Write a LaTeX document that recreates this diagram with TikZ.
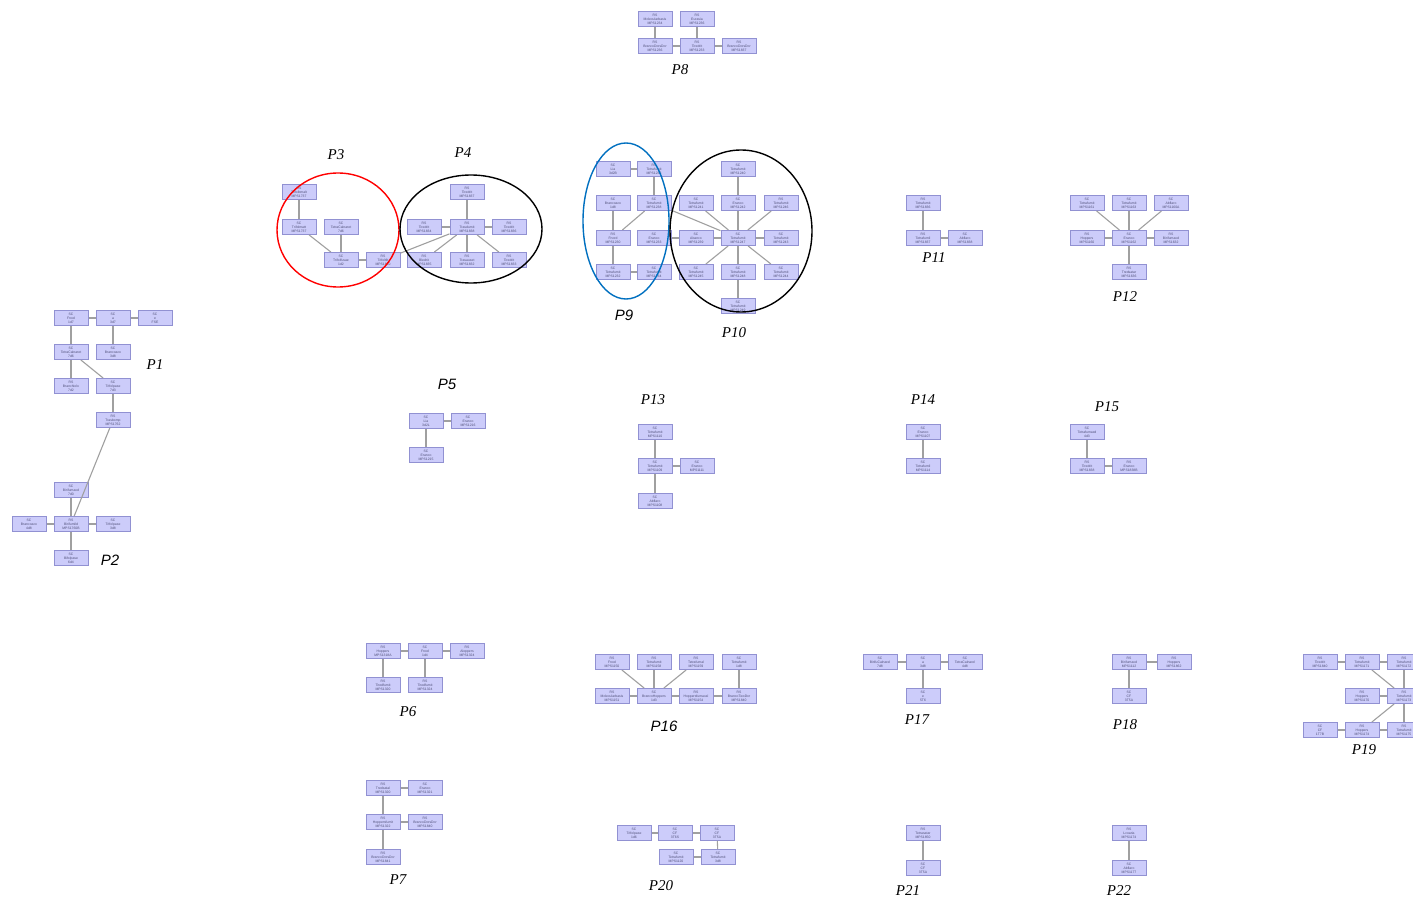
\documentclass[tikz,border=0pt]{standalone}
\usepackage{fontspec}
\setmainfont{Liberation Serif}
\newfontfamily\lblsans{Liberation Sans}
\definecolor{nfill}{RGB}{204,204,250}
\definecolor{ndraw}{RGB}{145,145,210}
\definecolor{ntext}{RGB}{80,80,120}
\definecolor{edgec}{RGB}{160,160,160}
\definecolor{blueov}{RGB}{0,112,192}
\tikzset{
  nd/.style={draw=ndraw, fill=nfill, line width=1pt, minimum width=34pt, minimum height=15pt,
    inner sep=0pt, align=center, text=ntext, font=\lblsans\fontsize{3.4}{3.9}\selectfont},
  ed/.style={draw=edgec, line width=1.1pt},
  lbl/.style={font=\fontsize{15}{15}\selectfont\itshape},
  lbls/.style={font=\fontsize{15}{15}\selectfont\lblsans\itshape},
  ring/.style={line width=1.4pt}
}
\begin{document}
\begin{tikzpicture}[x=1pt,y=-1pt]
\useasboundingbox (0,0) rectangle (1413,901);
\fill[white] (0,0) rectangle (1413,901);

% ---------------- P8
\node[nd] (p8a) at (655,19) {RS\\Molecularbasis\\MPS1234};
\node[nd] (p8b) at (697,19) {RS\\Eurasia\\MPS1236};
\node[nd] (p8c) at (655,46) {RS\\BrancoDorsDor\\MPS1236};
\node[nd] (p8d) at (697,46) {RS\\Tiredrit\\MPS1233};
\node[nd] (p8e) at (739,46) {RS\\BrancoDorsDor\\MPS1837};
\draw[ed] (p8a)--(p8c); \draw[ed] (p8b)--(p8d); \draw[ed] (p8c)--(p8d); \draw[ed] (p8d)--(p8e);
\node[lbl] (l8) at (680,70) {P8};

% ---------------- P1
\node[nd] (p1a) at (71,318) {SC\\Fnod\\1d7};
\node[nd] (p1b) at (113,318) {SC\\a\\3d7};
\node[nd] (p1c) at (155,318) {SC\\e\\FSE};
\node[nd] (p1d) at (71,352) {SC\\TetraCalnaret\\7d6};
\node[nd] (p1e) at (113,352) {SC\\Brancoaco\\3d8};
\node[nd] (p1f) at (71,386) {RS\\Branchiolo\\7d2};
\node[nd] (p1g) at (113,386) {SC\\Trifolpase\\7d3};
\node[nd] (p1h) at (113,420) {RS\\Trasbomp\\MPS1762};
\draw[ed] (p1a)--(p1b); \draw[ed] (p1b)--(p1c); \draw[ed] (p1a)--(p1d); \draw[ed] (p1b)--(p1e);
\draw[ed] (p1d)--(p1f); \draw[ed] (p1d)--(p1g); \draw[ed] (p1g)--(p1h);
\node[lbl] (l1) at (155,365) {P1};

% ---------------- P2
\node[nd] (p2a) at (71,490) {SC\\Birifumaxd\\7d0};
\node[nd] (p2b) at (71,524) {RS\\Birifumild\\MPS1760B};
\node[nd] (p2c) at (29,524) {SC\\Brancoaco\\4d8};
\node[nd] (p2d) at (113,524) {SC\\Trifolpase\\3d8};
\node[nd] (p2e) at (71,558) {SC\\Bifolpase\\6d4};
\draw[ed] (p2a)--(p2b); \draw[ed] (p2c)--(p2b); \draw[ed] (p2b)--(p2d); \draw[ed] (p2b)--(p2e);
\draw[ed] (p1h)--(p2b);
\node[lbls] (l2) at (110,560) {P2};

% ---------------- P3
\node[nd] (p3a) at (299,192) {RS\\Trifolbmalt\\MPS1737};
\node[nd] (p3b) at (299,227) {SC\\Trifolmatt\\MPS1737};
\node[nd] (p3c) at (341,227) {SC\\TetraCalnaret\\7d6};
\node[nd] (p3d) at (341,260) {SC\\Trifolfusae\\1d2};
\node[nd] (p3e) at (383,260) {RS\\Trifoltlit\\MPS1840};
\draw[ed] (p3a)--(p3b); \draw[ed] (p3b)--(p3d); \draw[ed] (p3c)--(p3d); \draw[ed] (p3d)--(p3e);
\node[lbl] (l3) at (336,155) {P3};

% ---------------- P4
\node[nd] (p4a) at (467,192) {RS\\Tiredrit\\MPS1837};
\node[nd] (p4b) at (424,227) {RS\\Tiredrit\\MPS1834};
\node[nd] (p4c) at (467,227) {RS\\Trasdumit\\MPS1838};
\node[nd] (p4d) at (509,227) {RS\\Tiredrit\\MPS1836};
\node[nd] (p4e) at (424,260) {RS\\Bledrit\\MPS1835};
\node[nd] (p4f) at (467,260) {RS\\Trasauset\\MPS1832};
\node[nd] (p4g) at (509,260) {RS\\Tiredrit\\MPS1833};
\draw[ed] (p4a)--(p4c); \draw[ed] (p4b)--(p4c); \draw[ed] (p4c)--(p4d); \draw[ed] (p4c)--(p4e);
\draw[ed] (p4c)--(p4f); \draw[ed] (p4c)--(p4g); \draw[ed] (p4c)--(p3e);
\node[lbl] (l4) at (463,153) {P4};
\draw[red, ring] (338,230) ellipse [x radius=61, y radius=57];
\draw[black, ring] (471,229) ellipse [x radius=71, y radius=54];

% ---------------- P9
\node[nd] (p9a) at (613,169) {SC\\Lia\\3d2B};
\node[nd] (p9b) at (654,169) {RS\\Tetrafumit\\MPS1236};
\node[nd] (p9c) at (613,203) {SC\\Brancoaco\\1d8};
\node[nd] (p9d) at (654,203) {SC\\Tetrafumit\\MPS1238};
\node[nd] (p9e) at (613,238) {RS\\Fnord\\MPS1230};
\node[nd] (p9f) at (654,238) {SC\\Eranco\\MPS1233};
\node[nd] (p9g) at (613,272) {SC\\Tetrafumit\\MPS1232};
\node[nd] (p9h) at (654,272) {SC\\Tetrafumit\\MPS1234};
\draw[ed] (p9a)--(p9b); \draw[ed] (p9b)--(p9d); \draw[ed] (p9c)--(p9e); \draw[ed] (p9d)--(p9e);
\draw[ed] (p9e)--(p9g); \draw[ed] (p9g)--(p9h);
\node[lbls] (l9) at (624,315) {P9};

% ---------------- P10
\node[nd] (q1) at (738,169) {SC\\Tetrafumit\\MPS1240};
\node[nd] (q2) at (696,203) {SC\\Tetrafumit\\MPS1241};
\node[nd] (q3) at (738,203) {SC\\Eranco\\MPS1242};
\node[nd] (q4) at (781,203) {RS\\Tetrafumit\\MPS1246};
\node[nd] (q5) at (696,238) {SC\\Abanco\\MPS1239};
\node[nd] (q6) at (738,238) {SC\\Tetrafumit\\MPS1247};
\node[nd] (q7) at (781,238) {SC\\Tetrafumit\\MPS1243};
\node[nd] (q8) at (696,272) {SC\\Tetrafumit\\MPS1245};
\node[nd] (q9) at (738,272) {SC\\Tetrafumit\\MPS1248};
\node[nd] (q10) at (781,272) {SC\\Tetrafumit\\MPS1244};
\node[nd] (q11) at (738,306) {SC\\Tetrafumit\\MPS1249};
\draw[ed] (q1)--(q3); \draw[ed] (q3)--(q6); \draw[ed] (q4)--(q6); \draw[ed] (q6)--(q7);
\draw[ed] (q8)--(q6); \draw[ed] (q6)--(q9); \draw[ed] (q10)--(q6); \draw[ed] (q9)--(q11);
\draw[ed] (q5)--(q6); \draw[ed] (p9f)--(q5); \draw[ed] (p9d)--(q6); \draw[ed] (q2)--(q6);
\node[lbl] (l10) at (734,333) {P10};
\draw[blueov, ring] (626,221) ellipse [x radius=43, y radius=78];
\draw[black, ring] (741,231) ellipse [x radius=71, y radius=81];

% ---------------- P11
\node[nd] (r1) at (923,203) {RS\\Tetrafumit\\MPS1836};
\node[nd] (r2) at (923,238) {RS\\Tetrafumil\\MPS1837};
\node[nd] (r3) at (965,238) {SC\\Abflaro\\MPS1838};
\draw[ed] (r1)--(r2); \draw[ed] (r2)--(r3);
\node[lbl] (l11) at (934,258) {P11};

% ---------------- P12
\node[nd] (s1) at (1087,203) {SC\\Tetrafumit\\MPS1161};
\node[nd] (s2) at (1129,203) {SC\\Tetrafumit\\MPS1163};
\node[nd] (s3) at (1171,203) {SC\\Abflaro\\MPS1160A};
\node[nd] (s4) at (1087,238) {RS\\Hoppers\\MPS1160};
\node[nd] (s5) at (1129,238) {SC\\Eranco\\MPS1162};
\node[nd] (s6) at (1171,238) {RS\\Birifumaxd\\MPS1632};
\node[nd] (s7) at (1129,272) {RS\\Tredsatar\\MPS1636};
\draw[ed] (s1)--(s5); \draw[ed] (s2)--(s5); \draw[ed] (s3)--(s5); \draw[ed] (s4)--(s5);
\draw[ed] (s5)--(s6); \draw[ed] (s5)--(s7);
\node[lbl] (l12) at (1125,297) {P12};

% ---------------- P5
\node[nd] (t1) at (426,421) {SC\\Lia\\3d2L};
\node[nd] (t2) at (468,421) {SC\\Eranco\\MPS1216};
\node[nd] (t3) at (426,455) {SC\\Eranco\\MPS1215};
\draw[ed] (t1)--(t2); \draw[ed] (t1)--(t3);
\node[lbls] (l5) at (447,384) {P5};

% ---------------- P13
\node[nd] (u1) at (655,432) {SC\\Tetrafumit\\MPS1110};
\node[nd] (u2) at (655,466) {SC\\Tetrafumit\\MPS1109};
\node[nd] (u3) at (697,466) {SC\\Eranco\\MPS1111};
\node[nd] (u4) at (655,501) {SC\\Abflaro\\MPS1108};
\draw[ed] (u1)--(u2); \draw[ed] (u2)--(u3); \draw[ed] (u2)--(u4);
\node[lbl] (l13) at (653,400) {P13};

% ---------------- P14
\node[nd] (v1) at (923,432) {SC\\Eranco\\MPS1107};
\node[nd] (v2) at (923,466) {SC\\Tetrafumil\\MPS1114};
\draw[ed] (v1)--(v2);
\node[lbl] (l14) at (923,400) {P14};

% ---------------- P15
\node[nd] (w1) at (1087,432) {SC\\Tetrafumaxd\\4d3};
\node[nd] (w2) at (1087,466) {RS\\Tiredrit\\MPS1838};
\node[nd] (w3) at (1129,466) {RS\\Eranco\\MPS1838B};
\draw[ed] (w1)--(w2); \draw[ed] (w2)--(w3);
\node[lbl] (l15) at (1107,407) {P15};

% ---------------- P6
\node[nd] (x1) at (383,651) {RS\\Hoppers\\MPS1318A};
\node[nd] (x2) at (425,651) {SC\\Fnod\\1d4};
\node[nd] (x3) at (467,651) {RS\\Aloppers\\MPS1324};
\node[nd] (x4) at (383,685) {RS\\Tiredfumit\\MPS1320};
\node[nd] (x5) at (425,685) {RS\\Tiredfumit\\MPS1324};
\draw[ed] (x1)--(x2); \draw[ed] (x2)--(x3); \draw[ed] (x1)--(x4); \draw[ed] (x2)--(x5);
\node[lbl] (l6) at (408,712) {P6};

% ---------------- P7
\node[nd] (y1) at (383,788) {RS\\Tredsatal\\MPS1320};
\node[nd] (y2) at (425,788) {SC\\Eranco\\MPS1321};
\node[nd] (y3) at (383,822) {RS\\Hoppersfumit\\MPS1322};
\node[nd] (y4) at (425,822) {RS\\BrancoDorsDor\\MPS1840};
\node[nd] (y5) at (383,857) {RS\\BrancoDorsDor\\MPS1841};
\draw[ed] (y1)--(y2); \draw[ed] (y1)--(y3); \draw[ed] (y3)--(y4); \draw[ed] (y3)--(y5);
\node[lbl] (l7) at (398,880) {P7};

% ---------------- P16
\node[nd] (z1) at (612,662) {RS\\Fnod\\MPS1150};
\node[nd] (z2) at (654,662) {RS\\Tetrafumit\\MPS1158};
\node[nd] (z3) at (696,662) {RS\\Tetrafumal\\MPS1159};
\node[nd] (z4) at (739,662) {SC\\Tetrafumit\\1d8};
\node[nd] (z5) at (612,696) {RS\\Molecularbasis\\MPS1151};
\node[nd] (z6) at (654,696) {SC\\BrancoHoppers\\1d3};
\node[nd] (z7) at (696,696) {RS\\Hoppersfumacal\\MPS1154};
\node[nd] (z8) at (739,696) {RS\\BrancoTwoDor\\MPS1840};
\draw[ed] (z1)--(z6); \draw[ed] (z2)--(z6); \draw[ed] (z3)--(z6); \draw[ed] (z4)--(z8);
\draw[ed] (z5)--(z6); \draw[ed] (z6)--(z7); \draw[ed] (z7)--(z8);
\node[lbls] (l16) at (664,726) {P16};

% ---------------- P17
\node[nd] (a1) at (880,662) {SC\\BirifuCalnarel\\7d8};
\node[nd] (a2) at (923,662) {SC\\a\\3d8};
\node[nd] (a3) at (965,662) {SC\\TetraCalnarel\\4d8};
\node[nd] (a4) at (923,696) {SC\\e\\5T6};
\draw[ed] (a1)--(a2); \draw[ed] (a2)--(a3); \draw[ed] (a2)--(a4);
\node[lbl] (l17) at (917,720) {P17};

% ---------------- P18
\node[nd] (b1) at (1129,662) {RS\\Birifumaxd\\MPS1112};
\node[nd] (b2) at (1174,662) {RS\\Hoppers\\MPS1862};
\node[nd] (b3) at (1129,696) {SC\\CF\\3T5A};
\draw[ed] (b1)--(b2); \draw[ed] (b1)--(b3);
\node[lbl] (l18) at (1125,725) {P18};

% ---------------- P19
\node[nd] (c1) at (1320,662) {RS\\Tiredrit\\MPS1840};
\node[nd] (c2) at (1362,662) {RS\\Tetrafumit\\MPS1171};
\node[nd] (c3) at (1404,662) {RS\\Tetrafumit\\MPS1172};
\node[nd] (c4) at (1362,696) {RS\\Hoppers\\MPS1170};
\node[nd] (c5) at (1404,696) {RS\\Tetrafumit\\MPS1173};
\node[nd] (c6) at (1320,730) {SC\\CF\\1T7B};
\node[nd] (c7) at (1362,730) {RS\\Hoppers\\MPS1174};
\node[nd] (c8) at (1404,730) {RS\\Tetrafumit\\MPS1175};
\draw[ed] (c1)--(c2); \draw[ed] (c2)--(c3); \draw[ed] (c2)--(c5); \draw[ed] (c3)--(c5);
\draw[ed] (c4)--(c5); \draw[ed] (c7)--(c5); \draw[ed] (c5)--(c8); \draw[ed] (c6)--(c7); \draw[ed] (c7)--(c8);
\node[lbl] (l19) at (1364,750) {P19};

% ---------------- P20
\node[nd] (d1) at (634,833) {SC\\Trifolpase\\1d6};
\node[nd] (d2) at (675,833) {SC\\CF\\3T6S};
\node[nd] (d3) at (717,833) {SC\\CF\\3T5A};
\node[nd] (d4) at (676,857) {SC\\Tetrafumit\\MPS1120};
\node[nd] (d5) at (718,857) {SC\\Tetrafumit\\3d8};
\draw[ed] (d1)--(d2); \draw[ed] (d2)--(d3); \draw[ed] (d3)--(d5); \draw[ed] (d4)--(d5);
\node[lbl] (l20) at (661,886) {P20};

% ---------------- P21
\node[nd] (e1) at (923,833) {RS\\Tetrasatar\\MPS1850};
\node[nd] (e2) at (923,868) {SC\\CF\\3T5A};
\draw[ed] (e1)--(e2);
\node[lbl] (l21) at (908,891) {P21};

% ---------------- P22
\node[nd] (f1) at (1129,833) {RS\\Lcoaria\\MPS1174};
\node[nd] (f2) at (1129,868) {SC\\Abflaro\\MPS1177};
\draw[ed] (f1)--(f2);
\node[lbl] (l22) at (1119,891) {P22};
\end{tikzpicture}
\end{document}
